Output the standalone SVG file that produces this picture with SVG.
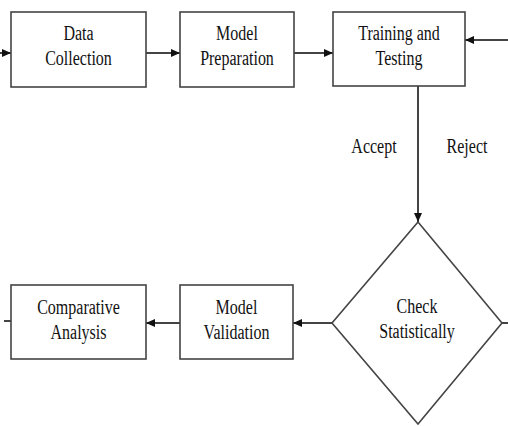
<svg xmlns="http://www.w3.org/2000/svg" width="508" height="426" viewBox="0 0 508 426">
<defs>
<marker id="ah" markerWidth="10" markerHeight="8" refX="9" refY="4" orient="auto" markerUnits="userSpaceOnUse">
<path d="M0,0 L9,4 L0,8 Z" fill="#111"/>
</marker>
<style>
.box{fill:#fff;stroke:#444;stroke-width:1.6}
.ln{fill:none;stroke:#444;stroke-width:2}
.t{font-family:"Liberation Serif","Times New Roman",serif;font-size:20px;fill:#111;text-anchor:middle}
</style>
</defs>
<rect width="508" height="426" fill="#fff"/>
<g id="connectors">
<line class="ln" x1="0" y1="53" x2="11" y2="53" marker-end="url(#ah)"/>
<line class="ln" x1="146" y1="53" x2="180" y2="53" marker-end="url(#ah)"/>
<line class="ln" x1="294" y1="53" x2="333" y2="53" marker-end="url(#ah)"/>
<line class="ln" x1="508" y1="40" x2="465" y2="40" marker-end="url(#ah)"/>
<line class="ln" x1="418" y1="86" x2="418" y2="222" marker-end="url(#ah)"/>
<line class="ln" x1="332" y1="323" x2="293" y2="323" marker-end="url(#ah)"/>
<line class="ln" x1="180" y1="323" x2="146" y2="323" marker-end="url(#ah)"/>
<line class="ln" x1="4" y1="321" x2="11" y2="321"/>
<line class="ln" x1="502" y1="323" x2="508" y2="323"/>
<text class="t" transform="translate(374,153) scale(0.8,1)">Accept</text>
<text class="t" transform="translate(467,153) scale(0.8,1)">Reject</text>
</g>
<g id="data-collection">
<rect class="box" x="11" y="12" width="135" height="75"/>
<text class="t" transform="translate(78.5,40) scale(0.8,1)">Data</text>
<text class="t" transform="translate(78.5,65) scale(0.8,1)">Collection</text>
</g>
<g id="model-preparation">
<rect class="box" x="180" y="12" width="114" height="75"/>
<text class="t" transform="translate(237,40) scale(0.8,1)">Model</text>
<text class="t" transform="translate(237,65) scale(0.8,1)">Preparation</text>
</g>
<g id="training-testing">
<rect class="box" x="333" y="12" width="132" height="74"/>
<text class="t" transform="translate(399,40) scale(0.8,1)">Training and</text>
<text class="t" transform="translate(399,65) scale(0.8,1)">Testing</text>
</g>
<g id="check-statistically">
<polygon class="box" points="418,222 502,323 418,424 332,323"/>
<text class="t" transform="translate(417,313) scale(0.8,1)">Check</text>
<text class="t" transform="translate(417,338) scale(0.8,1)">Statistically</text>
</g>
<g id="model-validation">
<rect class="box" x="180" y="285" width="113" height="74"/>
<text class="t" transform="translate(236.5,314) scale(0.8,1)">Model</text>
<text class="t" transform="translate(236.5,339) scale(0.8,1)">Validation</text>
</g>
<g id="comparative-analysis">
<rect class="box" x="11" y="285" width="135" height="74"/>
<text class="t" transform="translate(78.5,314) scale(0.8,1)">Comparative</text>
<text class="t" transform="translate(78.5,339) scale(0.8,1)">Analysis</text>
</g>
</svg>
